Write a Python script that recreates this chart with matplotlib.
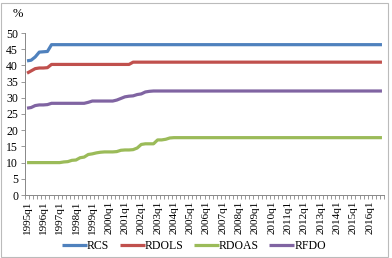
import matplotlib.pyplot as plt
from matplotlib.patches import Rectangle

# quarterly series, 1995q1 - 2016q4
years = list(range(1995, 2017))
quarters = [f"{y}q{q}" for y in years for q in range(1, 5)]

rcs = [41.4, 41.6, 42.6, 44.1, 44.2, 44.3] + [46.4] * 82
rdols = [37.6, 38.3, 39.0, 39.2, 39.2, 39.3] + [40.3] * 20 + [41.0] * 62
rdoas = ([10.0] * 9
         + [10.2, 10.3, 10.7, 10.8, 11.5, 11.7, 12.5, 12.7, 13.0, 13.2,
            13.3, 13.3, 13.3, 13.4, 13.8, 13.9, 13.9, 14.0, 14.5, 15.6,
            15.8, 15.8, 15.8, 17.0, 17.0, 17.2, 17.6]
         + [17.7] * 52)
rfdo = ([26.8, 27.0, 27.6, 27.8, 27.8, 27.9] + [28.3] * 9 + [28.6] + [29.0] * 6
        + [29.3, 29.8, 30.3, 30.5, 30.6, 31.0, 31.2, 31.8, 32.0]
        + [32.1] * 57)

series = [("RCS", rcs, "#4F81BD"), ("RDOLS", rdols, "#C0504D"),
          ("RDOAS", rdoas, "#9BBB59"), ("RFDO", rfdo, "#8064A2")]

plt.rcParams["font.family"] = ["Liberation Serif", "DejaVu Serif"]

fig = plt.figure(figsize=(3.92, 2.58), dpi=100)
ax = fig.add_axes([25 / 392, 1 - 195 / 258, 359 / 392, 162 / 258])

x = list(range(len(quarters)))
for name, vals, col in series:
    ax.plot(x, vals, color=col, lw=2.3, label=name, solid_capstyle="butt")

ax.set_xlim(-0.5, len(quarters) - 0.5)
ax.set_ylim(0, 50)
ax.set_yticks(range(0, 51, 5))
ax.set_xticks(x[::4])
ax.set_xticklabels(quarters[::4], rotation=90, fontsize=8)
ax.set_xticks([i - 0.5 for i in range(len(quarters) + 1)], minor=True)
ax.tick_params(axis="x", which="major", length=0, pad=4)
ax.tick_params(axis="x", which="minor", length=3, color="#888888", width=0.6)
ax.tick_params(axis="y", length=3, color="#888888", width=0.6, labelsize=8.5, pad=2)

for s in ["top", "right"]:
    ax.spines[s].set_visible(False)
for s in ["left", "bottom"]:
    ax.spines[s].set_color("#888888")
    ax.spines[s].set_linewidth(0.7)

fig.text(18 / 392, 1 - 14 / 258, "%", fontsize=9, ha="center", va="center")

fig.legend(loc="center", bbox_to_anchor=(194 / 392, 1 - 246 / 258), ncol=4, frameon=False,
           fontsize=8.5, handlelength=2.1, handletextpad=0.0, columnspacing=0.9)

fig.patches.append(Rectangle((1 / 392, 1 / 258), 387 / 392, 254 / 258, transform=fig.transFigure,
                             fill=False, edgecolor="#BBBBBB", lw=0.8))

fig.savefig("out.png", dpi=100)
